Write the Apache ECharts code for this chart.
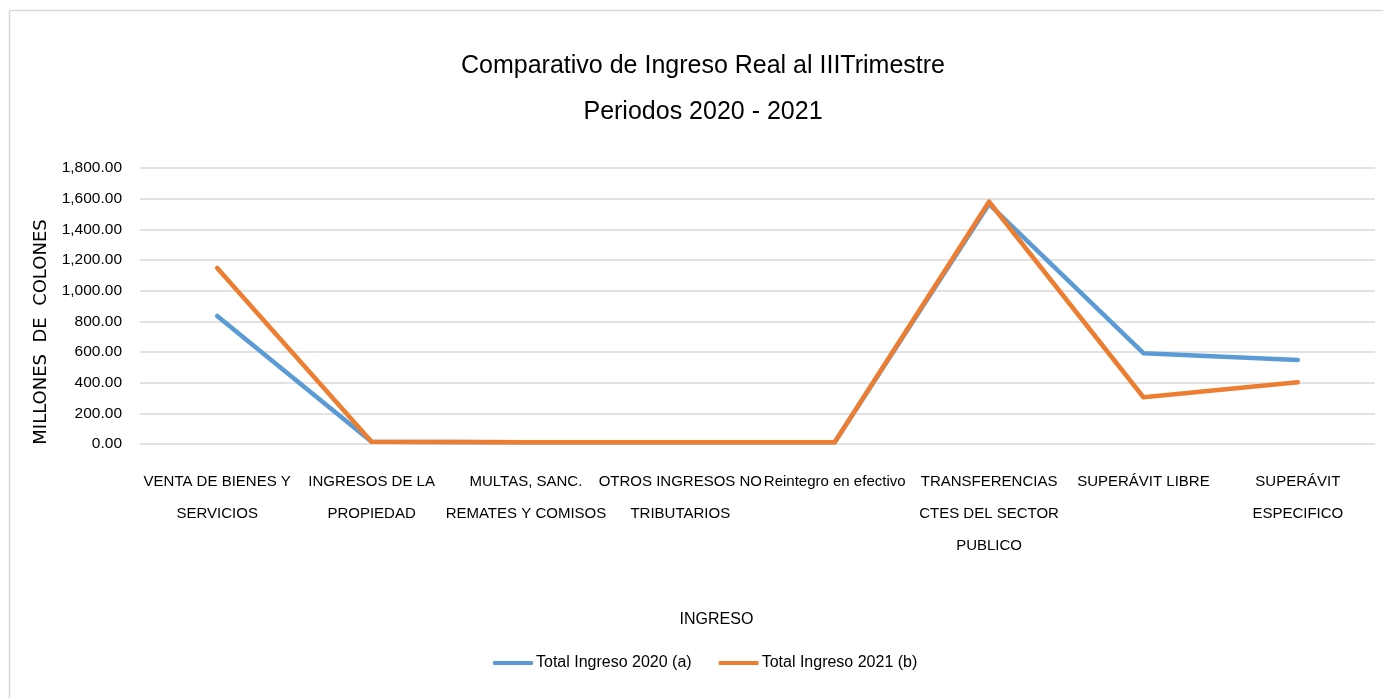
<!DOCTYPE html>
<html>
<head>
<meta charset="utf-8">
<script src="https://cdn.jsdelivr.net/npm/echarts@6/dist/echarts.min.js"></script>
<style>
html,body{margin:0;padding:0;background:#fff;}
#c{width:1383px;height:698px;}
</style>
</head>
<body>
<div id="c"></div>
<script>
const categories = [
  'VENTA DE BIENES Y\nSERVICIOS',
  'INGRESOS DE LA\nPROPIEDAD',
  'MULTAS, SANC.\nREMATES Y COMISOS',
  'OTROS INGRESOS NO\nTRIBUTARIOS',
  'Reintegro en efectivo',
  'TRANSFERENCIAS\nCTES DEL SECTOR\nPUBLICO',
  'SUPERÁVIT LIBRE',
  'SUPERÁVIT\nESPECIFICO'
];
const total2020 = [835, 14, 12, 12, 12, 1565, 592, 548];
const total2021 = [1148, 14, 12, 12, 12, 1580, 305, 402];
const seriesNames = ['Total Ingreso 2020 (a)', 'Total Ingreso 2021 (b)'];

const FONT = '"Liberation Sans Narrow", "Liberation Sans", Arial, sans-serif';
const chart = echarts.init(document.getElementById('c'), null, {renderer: 'canvas'});
chart.setOption({
  animation: false,
  backgroundColor: '#fff',
  color: ['#5B9BD5', '#ED7D31'],
  graphic: [
    {type: 'line', shape: {x1: 9.5, y1: 10.5, x2: 1383, y2: 10.5}, style: {stroke: '#D9D9D9', lineWidth: 1.5}},
    {type: 'line', shape: {x1: 9.5, y1: 10.5, x2: 9.5, y2: 698}, style: {stroke: '#D9D9D9', lineWidth: 1.5}}
  ],
  title: {
    text: 'Comparativo de Ingreso Real al IIITrimestre\nPeriodos 2020 - 2021',
    left: 698,
    textAlign: 'center',
    top: 38,
    textStyle: {fontFamily: FONT, fontSize: 25, fontWeight: 'normal', color: '#000', lineHeight: 46}
  },
  legend: {
    left: 488,
    bottom: 22,
    itemWidth: 40,
    itemHeight: 4,
    itemGap: 27,
    icon: 'roundRect',
    textStyle: {fontFamily: FONT, fontSize: 16, color: '#000', padding: [0, 0, 0, -2]},
    data: seriesNames
  },
  grid: {left: 140, right: 8, top: 168, bottom: 254, containLabel: false},
  xAxis: {
    type: 'category',
    data: categories,
    boundaryGap: true,
    name: 'INGRESO',
    nameLocation: 'middle',
    nameGap: 168,
    nameTextStyle: {fontFamily: FONT, fontSize: 16, color: '#000', padding: [0, 82, 0, 0]},
    axisLine: {show: false},
    axisTick: {show: false},
    axisLabel: {interval: 0, fontFamily: FONT, fontSize: 15, color: '#000', lineHeight: 32, margin: 22}
  },
  yAxis: {
    type: 'value',
    min: 0,
    max: 1800,
    interval: 200,
    name: 'MILLONES  DE  COLONES',
    nameLocation: 'middle',
    nameRotate: 90,
    nameGap: 85,
    nameTextStyle: {fontFamily: '"DejaVu Sans", sans-serif', fontSize: 18, color: '#000', padding: [0, 52, 0, 0]},
    axisLine: {show: false},
    axisTick: {show: false},
    axisLabel: {
      fontFamily: FONT, fontSize: 15.5, color: '#000', margin: 18,
      formatter: v => v.toLocaleString('en-US', {minimumFractionDigits: 2, maximumFractionDigits: 2})
    },
    splitLine: {lineStyle: {color: '#D9D9D9', width: 1.5}}
  },
  series: [
    {name: seriesNames[0], type: 'line', data: total2020, symbol: 'none', lineStyle: {width: 4.5, color: '#5B9BD5', cap: 'round', join: 'round'}},
    {name: seriesNames[1], type: 'line', data: total2021, symbol: 'none', lineStyle: {width: 4.5, color: '#ED7D31', cap: 'round', join: 'round'}}
  ]
});
</script>
</body>
</html>
